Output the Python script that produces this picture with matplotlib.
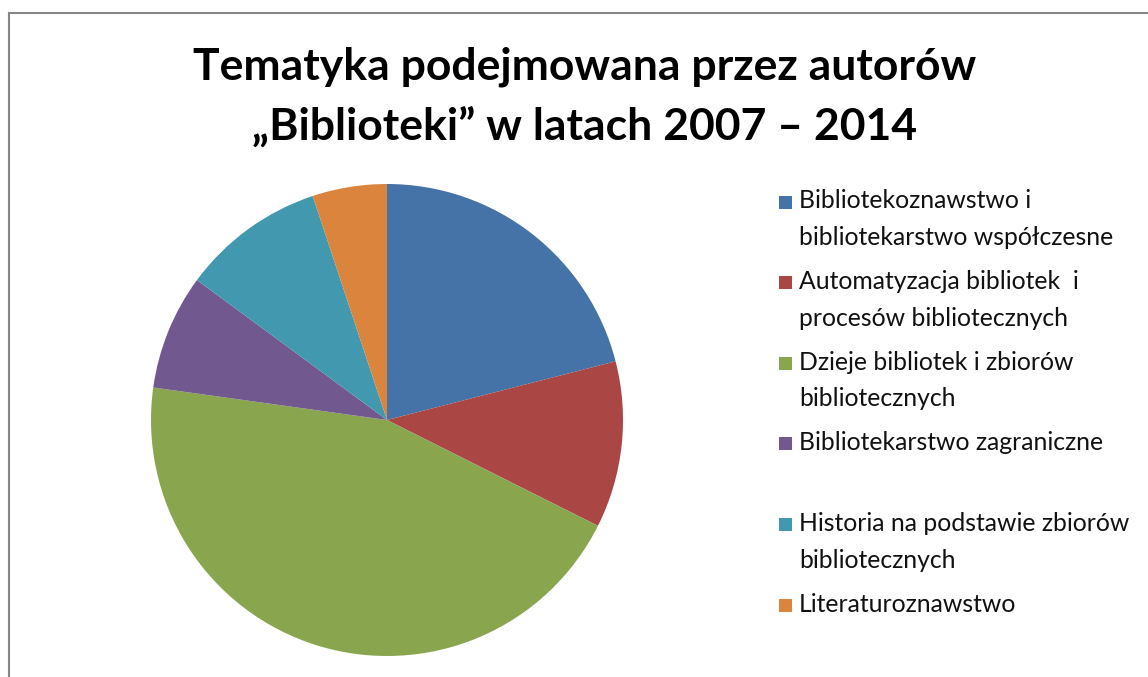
import matplotlib
matplotlib.use('Agg')
import matplotlib.pyplot as plt
from matplotlib.patches import Rectangle
from matplotlib.lines import Line2D

plt.rcParams['font.family'] = ['Lato', 'DejaVu Sans']

# data (shares in %)
labels = [
    "Bibliotekoznawstwo i\nbibliotekarstwo współczesne",
    "Automatyzacja bibliotek  i\nprocesów bibliotecznych",
    "Dzieje bibliotek i zbiorów\nbibliotecznych",
    "Bibliotekarstwo zagraniczne",
    "Historia na podstawie zbiorów\nbibliotecznych",
    "Literaturoznawstwo",
]
values = [21.0, 11.4, 44.8, 7.9, 9.8, 5.1]
colors = ['#4572A7', '#AA4643', '#89A54E', '#71588F', '#4198AF', '#DB843D']
title = "Tematyka podejmowana przez autorów\n„Biblioteki” w latach 2007 – 2014"

W, H = 1148, 677
fig = plt.figure(figsize=(W / 100, H / 100), dpi=100)

# pie
ax = fig.add_axes([151 / W, (H - 656) / H, 472 / W, 472 / H])
ax.pie(values, colors=colors, startangle=90, counterclock=False,
       wedgeprops=dict(linewidth=0))
ax.set_xlim(-1, 1)
ax.set_ylim(-1, 1)
ax.set_aspect('equal')
ax.axis('off')

# title
fig.text(0.509, 1 - 97 / H, title, ha='center', va='center',
         fontsize=32, fontweight='bold', linespacing=1.55)

# legend, one entry every ~80 px
y0 = 202
step = 80.6
for i, (lab, col) in enumerate(zip(labels, colors)):
    y = y0 + i * step
    fig.patches.append(Rectangle((779 / W, 1 - (y + 6.5) / H), 13 / W, 13 / H,
                                 transform=fig.transFigure, facecolor=col,
                                 edgecolor='none'))
    fig.text(799 / W, 1 - (y - 12.5) / H, lab, ha='left', va='top',
             fontsize=17.8, color='#111111', linespacing=1.72)

# chart frame (left and top edges visible)
fig.add_artist(Line2D([8.5 / W, 8.5 / W], [0, 1 - 12.5 / H], color='#868686',
                      linewidth=1.5, transform=fig.transFigure))
fig.add_artist(Line2D([8.5 / W, 1], [1 - 12.5 / H, 1 - 12.5 / H], color='#868686',
                      linewidth=1.5, transform=fig.transFigure))

fig.savefig('out.png', dpi=100)
